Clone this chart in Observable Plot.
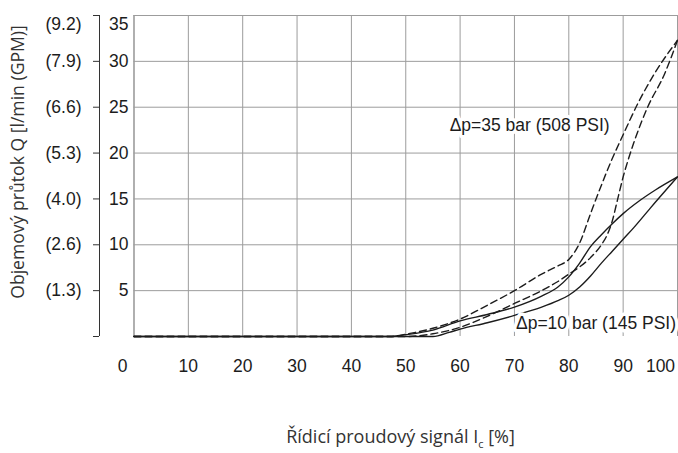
<!DOCTYPE html>
<html><head><meta charset="utf-8">
<script src="https://cdn.jsdelivr.net/npm/d3@7"></script>
<script src="https://cdn.jsdelivr.net/npm/@observablehq/plot@0.6"></script>
<style>
html,body{margin:0;padding:0;background:#fff;}
#chart svg{display:block;}
</style>
</head><body><div id="chart"></div>
<script>
// ---- data ----
const xTickValues = [0, 10, 20, 30, 40, 50, 60, 70, 80, 90, 100];
const yTickValues = [5, 10, 15, 20, 25, 30, 35];
const gpmLabels = ["(1.3)", "(2.6)", "(4.0)", "(5.3)", "(6.6)", "(7.9)", "(9.2)"];

// Δp = 10 bar, solid (two branches of the hysteresis loop)
const solidUpX = [0, 47, 50, 55, 60, 65, 70, 75, 78, 80, 82, 84, 86, 88, 90, 93, 96, 100];
const solidUpQ = [0, 0, 0.2, 0.7, 1.7, 2.4, 3.2, 4.4, 5.4, 6.5, 8.0, 9.8, 11.1, 12.3, 13.4, 14.8, 16.0, 17.4];
const solidDownX = [0, 55, 58, 60, 65, 70, 75, 78, 80, 82, 84, 86, 88, 90, 92, 95, 100];
const solidDownQ = [0, 0, 0.45, 0.8, 1.5, 2.3, 3.2, 3.9, 4.5, 5.4, 6.6, 8.0, 9.3, 10.6, 11.9, 14.0, 17.4];
// Δp = 35 bar, dashed
const dashUpX = [0, 47.5, 50, 55, 60, 65, 70, 75, 78, 80, 82, 84, 86, 87, 88, 90, 92.7, 95.7, 100];
const dashUpQ = [0, 0, 0.25, 0.9, 1.9, 3.4, 5.0, 6.8, 7.7, 8.4, 10.2, 13.4, 16.5, 18.0, 19.4, 22.0, 25.4, 28.6, 32.3];
const dashDownX = [0, 50, 55, 60, 65, 70, 75, 78, 80, 82, 84, 86, 87, 88, 89, 90, 91, 92, 94.5, 97.6, 100];
const dashDownQ = [0, 0, 0.3, 1.0, 2.2, 3.6, 5.0, 6.0, 6.8, 7.6, 8.6, 10.0, 11.0, 12.6, 15.0, 17.4, 19.4, 21.2, 25.0, 28.6, 32.3];

const label35 = "Δp=35 bar (508 PSI)";
const label10 = "Δp=10 bar (145 PSI)";
const yTitle = "Objemový průtok Q [l/min (GPM)]";
const xTitle = "Řídicí proudový signál Ic [%]";

// ---- build ----
const toRows = (xs, qs) => xs.map((x, i) => ({x, q: qs[i]}));
const solidUp = toRows(solidUpX, solidUpQ);
const solidDown = toRows(solidDownX, solidDownQ);
const dashUp = toRows(dashUpX, dashUpQ);
const dashDown = toRows(dashDownX, dashDownQ);

const tickFont = "'Liberation Sans', Arial, sans-serif";
const gridColor = "#9c9c9c";
const ink = "#1c1c1c";
const yLow = yTickValues.filter(d => d < 35);
const yTop = yTickValues.filter(d => d === 35);
const gpmFor = d => gpmLabels[yTickValues.indexOf(d)];

const chart = Plot.plot({
  width: 678,
  height: 453,
  marginLeft: 133.5,
  marginRight: 1,
  marginTop: 15,
  marginBottom: 117,
  x: {domain: [0, 100], axis: null},
  y: {domain: [0, 35], axis: null},
  style: {fontFamily: tickFont, fontSize: "17.5px", color: ink, background: "#fff"},
  marks: [
    Plot.gridX(xTickValues.filter(d => d > 0), {stroke: gridColor, strokeOpacity: 1, strokeWidth: 1}),
    Plot.gridY(yTickValues, {stroke: gridColor, strokeOpacity: 1, strokeWidth: 1}),
    Plot.gridX([0], {stroke: gridColor, strokeOpacity: 1, strokeWidth: 1.6}),
    // outer bracket axis
    Plot.ruleX([0], {y1: 0, y2: 35, dx: -34.5, stroke: "#333", strokeWidth: 1}),
    Plot.axisY({ticks: [0, ...yTickValues], tickSize: 6, tickFormat: () => "", label: null, dx: -34.5, stroke: "#333", anchor: "left"}),
    // curves
    Plot.line(solidUp, {x: "x", y: "q", curve: "monotone-x", stroke: ink, strokeWidth: 1.4}),
    Plot.line(solidDown, {x: "x", y: "q", curve: "monotone-x", stroke: ink, strokeWidth: 1.4}),
    Plot.line(dashUp, {x: "x", y: "q", curve: "monotone-x", stroke: ink, strokeWidth: 1.4, strokeDasharray: "7,4"}),
    Plot.line(dashDown, {x: "x", y: "q", curve: "monotone-x", stroke: ink, strokeWidth: 1.4, strokeDasharray: "7,4"}),
    // y tick labels
    Plot.text(yLow, {x: 0, y: d => d, text: d => String(d), textAnchor: "end", dx: -5.5, fill: ink}),
    Plot.text(yTop, {x: 0, y: d => d, text: d => String(d), textAnchor: "end", dx: -5.5, dy: 9, fill: ink}),
    Plot.text(yLow, {x: 0, y: d => d, text: gpmFor, textAnchor: "end", dx: -52.5, fill: ink}),
    Plot.text(yTop, {x: 0, y: d => d, text: gpmFor, textAnchor: "end", dx: -52.5, dy: 9, fill: ink}),
    // x tick labels
    Plot.text(xTickValues.filter(d => d > 0 && d < 100), {x: d => d, y: 0, text: d => String(d), dy: 30, fill: ink}),
    Plot.text(xTickValues.filter(d => d === 0), {x: d => d, y: 0, text: d => String(d), dy: 30, dx: -11.5, fill: ink}),
    Plot.text(xTickValues.filter(d => d === 100), {x: d => d, y: 0, text: d => String(d), dy: 30, dx: -17, fill: ink}),
    // annotations
    Plot.text([label35], {x: 72.8, y: 23.0, text: d => d, fill: ink, stroke: "white", strokeWidth: 7}),
    Plot.text([label10], {x: 85.0, y: 1.45, text: d => d, fill: ink, stroke: "white", strokeWidth: 7}),
    // titles
    Plot.text([yTitle], {frameAnchor: "left", textAnchor: "middle", rotate: -90, dx: -115.5, dy: -14, text: d => d, fontFamily: "'Open Sans', sans-serif", fontSize: 17.6, fill: "#333"}),
    Plot.text([xTitle], {frameAnchor: "bottom", textAnchor: "middle", dx: 400 - (133.5 + 677) / 2, dy: 106, text: d => d, fontFamily: "'Open Sans', sans-serif", fontSize: 18, fill: "#333", className: "xtitle"})
  ]
});
document.getElementById("chart").append(chart);

// subscript "c" in the x-axis title
const xt = chart.querySelector(".xtitle text");
if (xt) {
  const base = "Řídicí proudový signál I";
  xt.textContent = "";
  const ns = "http://www.w3.org/2000/svg";
  const t1 = document.createElementNS(ns, "tspan"); t1.textContent = base;
  const t2 = document.createElementNS(ns, "tspan"); t2.textContent = "c"; t2.setAttribute("dy", "5"); t2.setAttribute("font-size", "11");
  const t3 = document.createElementNS(ns, "tspan"); t3.textContent = " [%]"; t3.setAttribute("dy", "-5");
  xt.append(t1, t2, t3);
}
</script>
</body></html>
